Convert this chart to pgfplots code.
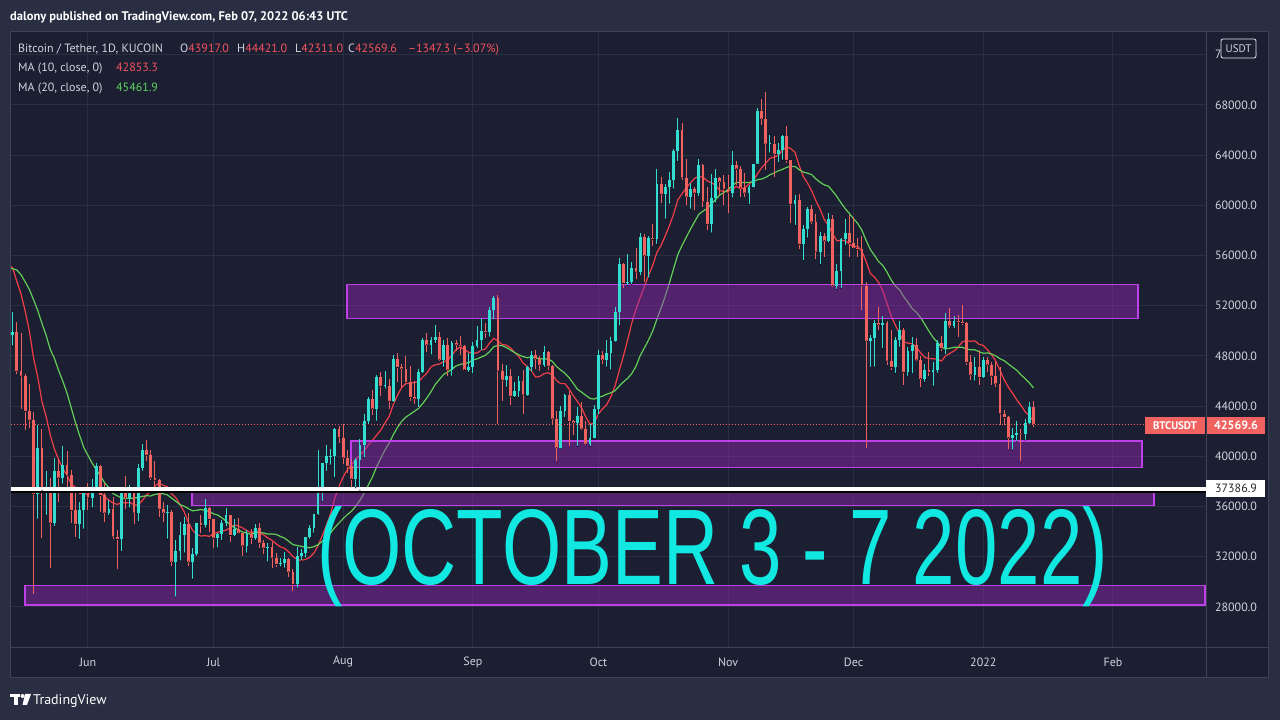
\documentclass[border=0pt]{standalone}
\usepackage{pgfplots}
\pgfplotsset{compat=1.18}
\usepackage{pgfplotstable}
\usepackage{graphicx}
\usepackage{fontspec}
\setmainfont{PT Sans}
\newfontfamily\bigfont{Liberation Sans}

\definecolor{outerbg}{RGB}{42,46,67}
\definecolor{chartbg}{RGB}{27,31,49}
\definecolor{gridc}{RGB}{43,47,67}
\definecolor{borderc}{RGB}{62,66,86}
\definecolor{textc}{RGB}{209,212,220}
\definecolor{upc}{RGB}{50,222,208}
\definecolor{downc}{RGB}{240,98,94}
\definecolor{ma10c}{RGB}{242,60,72}
\definecolor{ma20c}{RGB}{98,206,88}
\definecolor{zonef}{RGB}{150,40,180}
\definecolor{zoned}{RGB}{190,64,232}
\definecolor{bigc}{RGB}{18,232,226}
\definecolor{tagred}{RGB}{240,98,96}
\definecolor{valred}{RGB}{247,82,95}
\definecolor{valgreen}{RGB}{92,214,96}

% d = days from 1 Jun 2021; prices in thousands USDT; m1 = MA10, m2 = MA20
\pgfplotstableread{
d up o h l c m1 m2
-19 1 49.4 51.3 46.9 49.7 55.34 54.97
-18 1 49.7 51.5 48.8 49.9 55.01 54.96
-17 0 49.9 50.7 46.6 46.8 53.94 54.85
-16 0 46.8 49.8 43.8 46.4 52.94 54.47
-15 0 46.4 46.6 42.1 43.6 51.56 53.90
-14 0 43.6 45.8 42.3 42.9 49.96 53.30
-13 0 42.9 43.5 29.0 37.0 47.83 52.47
-12 1 37.0 42.5 35.0 40.7 46.31 51.62
-11 0 40.7 42.2 33.5 37.3 44.37 50.59
-10 1 37.3 38.8 35.3 37.5 43.18 49.64
-9 0 37.5 38.3 31.1 34.7 41.68 48.51
-8 1 34.7 39.9 34.4 38.8 40.57 47.79
-7 0 38.8 39.8 36.4 38.3 39.72 46.83
-6 1 38.3 40.8 37.8 39.3 39.01 45.98
-5 0 39.3 40.4 37.2 38.5 38.50 45.03
-4 0 38.5 38.9 34.7 35.7 37.78 43.87
-3 0 35.7 37.3 33.6 34.6 37.54 42.69
-2 1 34.6 36.4 33.4 35.7 37.04 41.68
-1 1 35.7 37.5 34.2 37.3 37.04 40.71
0 0 37.3 37.9 35.7 36.7 36.96 40.07
1 1 36.7 38.2 35.9 37.6 37.25 39.47
2 1 37.6 39.5 37.2 39.2 37.29 38.93
3 0 39.2 39.3 35.6 36.9 37.15 38.44
4 0 36.9 37.9 34.8 35.5 36.77 37.89
5 1 35.5 36.5 35.3 35.8 36.50 37.50
6 0 35.8 36.8 33.4 33.6 36.29 37.04
7 0 33.6 34.1 31.0 33.4 36.17 36.86
8 1 33.4 37.5 32.4 37.4 36.34 36.69
9 0 37.4 38.4 35.8 36.7 36.28 36.66
10 1 36.7 37.7 35.9 37.3 36.34 36.65
11 0 37.3 37.4 34.6 35.5 36.13 36.69
12 1 35.5 39.4 34.8 39.1 36.12 36.71
13 1 39.1 41.0 38.8 40.5 36.48 36.82
14 0 40.5 41.3 39.6 40.1 36.94 36.86
15 0 40.1 40.5 38.1 38.3 37.19 36.85
16 0 38.3 39.6 37.4 38.1 37.64 36.97
17 0 38.1 38.2 35.2 35.8 37.88 37.03
18 0 35.8 36.4 34.8 35.5 37.69 37.02
19 1 35.5 36.1 33.4 35.6 37.58 36.93
20 0 35.6 35.7 31.3 31.6 37.01 36.68
21 1 31.6 33.3 28.8 32.5 36.71 36.42
22 1 32.5 34.8 31.7 33.7 36.17 36.15
23 1 33.7 35.2 32.3 34.6 35.58 36.03
24 0 34.6 35.5 31.3 31.6 34.73 35.84
25 1 31.6 32.7 30.2 32.2 34.12 35.66
26 1 32.2 34.7 32.0 34.7 33.78 35.71
27 0 34.7 35.3 33.9 34.5 33.65 35.77
28 1 34.5 36.6 34.3 35.9 33.69 35.69
29 0 35.9 36.0 34.0 35.0 33.63 35.61
30 0 35.0 35.0 32.7 33.5 33.82 35.42
31 1 33.5 33.9 32.7 33.8 33.95 35.33
32 1 33.8 34.9 33.3 34.7 34.05 35.11
33 1 34.7 35.9 34.4 35.3 34.12 34.85
34 0 35.3 35.3 33.2 33.7 34.33 34.53
35 1 33.7 35.0 33.6 34.2 34.53 34.33
36 0 34.2 35.1 33.8 33.9 34.45 34.12
37 0 33.9 33.9 32.1 32.9 34.29 33.97
38 1 32.9 34.1 32.3 33.8 34.08 33.89
39 0 33.8 34.2 33.0 33.5 33.93 33.78
40 1 33.5 34.6 33.3 34.3 34.01 33.92
41 0 34.3 34.7 32.7 33.1 33.94 33.95
42 0 33.1 33.3 32.2 32.7 33.74 33.90
43 1 32.7 33.1 31.6 32.8 33.49 33.81
44 0 32.8 33.2 31.1 31.9 33.31 33.82
45 0 31.9 32.3 31.2 31.4 33.03 33.78
46 1 31.4 31.9 31.2 31.5 32.79 33.62
47 1 31.5 32.4 31.1 31.8 32.68 33.49
48 0 31.8 31.9 30.4 30.8 32.38 33.23
49 0 30.8 31.0 29.3 29.8 32.01 32.97
50 1 29.8 32.8 29.5 32.1 31.79 32.90
51 1 32.1 32.6 31.7 32.3 31.71 32.83
52 1 32.3 33.6 31.9 33.6 31.80 32.77
53 1 33.6 34.5 33.4 34.3 31.95 32.72
54 1 34.3 35.4 33.9 35.4 32.30 32.81
55 1 35.4 40.5 35.3 37.3 32.89 32.96
56 1 37.3 39.5 36.4 39.5 33.69 33.24
57 1 39.5 40.9 38.8 40.0 34.51 33.60
58 1 40.0 40.6 39.3 40.05 35.43 33.91
59 1 40.0 42.3 38.3 42.2 36.67 34.34
60 0 42.2 42.4 41.1 41.5 37.61 34.70
61 0 41.5 42.6 39.4 39.9 38.37 35.04
62 0 39.9 40.5 38.7 39.2 38.93 35.37
63 0 39.2 39.8 37.6 38.2 39.32 35.64
64 1 38.2 39.9 37.5 39.7 39.75 36.03
65 1 39.7 41.4 37.3 40.9 40.11 36.50
66 1 40.9 43.4 39.9 42.8 40.44 37.07
67 1 42.8 44.7 42.5 44.6 40.90 37.71
68 0 44.6 45.3 43.3 43.8 41.28 38.36
69 1 43.8 46.5 42.8 46.3 41.69 39.18
70 0 46.3 46.7 44.8 45.6 42.10 39.86
71 1 45.6 46.8 45.4 45.65 42.67 40.52
72 0 45.6 46.2 43.8 44.4 43.19 41.06
73 1 44.4 48.1 44.3 47.8 44.15 41.74
74 0 47.8 48.2 45.9 47.1 44.89 42.32
75 0 47.1 47.4 45.5 47.0 45.50 42.81
76 0 47.0 48.0 45.7 45.9 45.81 43.13
77 0 45.9 47.2 44.4 44.7 45.82 43.36
78 0 44.7 46.0 44.2 44.6 45.90 43.59
79 1 44.6 47.0 43.9 46.7 45.94 43.82
80 1 46.7 49.4 46.6 49.3 46.31 44.21
81 0 49.3 49.8 48.3 48.9 46.64 44.66
82 1 48.9 49.5 48.1 49.3 47.13 45.16
83 1 49.3 50.5 49.0 49.5 47.30 45.73
84 0 49.5 49.9 47.6 47.7 47.36 46.13
85 1 47.7 49.3 47.1 48.9 47.55 46.53
86 0 48.9 49.4 46.4 46.9 47.65 46.73
87 1 46.9 49.2 46.4 49.0 48.08 46.95
88 0 49.0 49.3 48.4 48.9 48.51 47.21
89 0 48.9 49.6 48.1 48.8 48.72 47.33
90 0 48.8 48.9 46.9 46.9 48.48 47.40
91 1 46.9 48.2 46.7 47.1 48.30 47.47
92 1 47.1 49.1 46.6 48.8 48.25 47.69
93 1 48.8 50.4 48.6 49.3 48.23 47.77
94 1 49.3 51.0 48.4 50.0 48.46 47.91
95 0 50.0 50.6 49.4 49.9 48.56 48.06
96 1 49.9 51.9 49.5 51.7 49.04 48.35
97 1 51.7 52.8 50.9 52.6 49.40 48.74
98 0 52.6 52.9 42.6 46.8 49.19 48.85
99 0 46.8 47.4 44.4 46.1 48.92 48.82
100 1 46.1 47.3 45.5 46.4 48.87 48.68
101 0 46.4 47.0 44.1 44.8 48.64 48.47
102 1 44.8 45.9 44.7 45.2 48.28 48.27
103 1 45.2 46.4 44.7 46.0 47.95 48.09
104 0 46.0 46.9 43.4 44.9 47.44 47.95
105 1 44.9 47.2 44.8 47.1 47.16 47.86
106 1 47.1 48.4 46.7 48.1 46.80 47.92
107 0 48.1 48.5 47.0 47.8 46.32 47.86
108 0 47.8 48.0 46.8 47.3 46.37 47.78
109 1 47.3 48.8 47.1 48.3 46.59 47.76
110 0 48.3 48.4 46.9 47.2 46.67 47.77
111 0 47.2 47.3 42.5 43.0 46.49 47.57
112 0 43.0 43.6 39.6 40.7 46.04 47.16
113 1 40.7 44.0 40.6 43.6 45.80 46.88
114 1 43.6 45.0 43.1 44.9 45.80 46.62
115 0 44.9 45.2 40.8 42.8 45.37 46.27
116 0 42.8 42.9 41.7 42.7 44.83 45.82
117 1 42.7 43.9 40.8 43.2 44.37 45.35
118 0 43.2 44.3 42.1 42.2 43.86 45.12
119 0 42.2 42.8 40.9 41.0 43.13 44.86
120 1 41.0 42.6 40.8 41.5 42.56 44.62
121 1 41.5 44.1 41.4 43.8 42.64 44.57
122 1 43.8 48.5 43.3 48.1 43.38 44.71
123 0 48.1 48.4 47.4 47.7 43.79 44.80
124 1 47.7 49.3 47.1 48.2 44.12 44.96
125 1 48.2 49.5 46.9 49.2 44.76 45.07
126 1 49.2 51.9 49.1 51.5 45.64 45.24
127 1 51.5 55.8 50.4 55.3 46.85 45.61
128 0 55.3 55.4 53.4 53.8 48.01 45.94
129 1 53.8 56.1 53.6 53.9 49.30 46.22
130 1 53.9 55.5 53.7 55.0 50.65 46.61
131 0 55.0 56.6 54.1 54.7 51.74 47.19
132 1 54.7 57.8 54.4 57.5 52.68 48.03
133 0 57.5 57.7 53.9 56.0 53.51 48.65
134 1 56.0 57.6 54.2 57.4 54.43 49.28
135 0 57.4 58.5 56.8 57.3 55.24 50.00
136 1 57.3 62.9 56.9 61.7 56.26 50.95
137 0 61.7 62.3 60.2 60.9 56.82 51.84
138 1 60.9 61.7 58.9 61.5 57.59 52.80
139 1 61.5 62.7 60.1 62.0 58.40 53.85
140 1 62.0 64.5 61.3 64.3 59.33 54.99
141 1 64.3 67.0 63.5 66.0 60.46 56.10
142 0 66.0 66.6 62.0 62.2 60.93 56.81
143 0 62.2 63.7 60.0 60.7 61.40 57.46
144 1 60.7 61.8 59.7 61.3 61.79 58.11
145 0 61.3 61.5 59.6 61.0 62.16 58.70
146 1 61.0 63.7 60.7 63.2 62.31 59.29
147 0 63.2 63.3 59.9 60.3 62.25 59.54
148 0 60.3 61.5 58.0 58.5 61.95 59.77
149 1 58.5 62.5 57.8 60.6 61.81 60.11
150 1 60.6 62.9 60.2 62.2 61.60 60.47
151 0 62.2 62.3 60.8 61.9 61.19 60.83
152 0 61.9 62.4 60.0 61.3 61.10 61.02
153 0 61.3 62.4 59.4 61.0 61.13 61.27
154 1 61.0 64.3 60.6 63.2 61.32 61.56
155 0 63.2 63.5 61.6 62.9 61.51 61.84
156 0 62.9 63.1 60.7 61.4 61.33 61.82
157 0 61.4 62.6 60.7 61.0 61.40 61.83
158 1 61.0 61.6 60.1 61.5 61.70 61.83
159 1 61.5 63.3 61.4 63.3 61.97 61.89
160 1 63.3 67.8 63.3 67.5 62.50 62.05
161 0 67.5 68.5 66.4 66.9 63.00 62.10
162 0 66.9 69.0 62.8 64.9 63.36 62.23
163 1 64.9 65.6 64.2 64.95 63.75 62.44
164 0 64.9 65.5 62.3 64.1 63.84 62.58
165 1 64.1 65.0 63.4 64.4 63.99 62.75
166 1 64.4 65.6 63.6 65.5 64.40 62.87
167 0 65.5 66.3 63.4 63.6 64.66 63.03
168 0 63.6 63.6 58.6 60.1 64.52 63.11
169 1 60.1 60.8 58.4 60.4 64.23 63.10
170 0 60.4 60.9 56.5 56.9 63.17 62.84
171 1 56.9 58.4 55.6 58.1 62.29 62.65
172 1 58.1 59.9 57.4 59.7 61.77 62.57
173 0 59.7 60.0 58.5 58.7 61.15 62.45
174 0 58.7 59.3 55.7 56.3 60.37 62.11
175 1 56.3 57.9 55.3 57.6 59.69 61.84
176 0 57.6 57.8 55.9 57.2 58.86 61.63
177 1 57.2 59.4 57.0 58.9 58.39 61.53
178 0 58.9 59.2 53.5 53.6 57.74 61.13
179 1 53.6 55.3 53.3 54.8 57.18 60.71
180 1 54.8 57.4 53.4 57.3 57.22 60.20
181 1 57.3 58.9 56.8 57.8 57.19 59.74
182 0 57.8 59.2 55.9 57.0 56.92 59.35
183 0 57.0 59.1 56.5 56.6 56.71 58.93
184 0 56.6 57.4 55.9 56.5 56.73 58.55
185 0 56.5 57.6 51.7 53.6 56.33 58.01
186 0 53.6 53.9 40.7 49.2 55.53 57.20
187 1 49.2 49.7 47.1 49.4 54.58 56.49
188 1 49.4 50.9 47.1 50.6 54.28 56.01
189 0 50.6 51.9 50.1 50.5 53.85 55.52
190 1 50.5 51.2 48.6 50.6 53.18 55.20
191 0 50.6 50.8 47.3 47.6 52.16 54.68
192 0 47.6 50.1 46.9 47.1 51.17 54.05
193 1 47.1 49.5 46.6 49.3 50.44 53.58
194 1 49.3 50.8 48.7 50.1 49.80 53.27
195 0 50.1 50.2 45.7 46.7 49.11 52.72
196 1 46.7 48.7 46.4 48.4 49.03 52.28
197 1 48.4 49.5 46.6 48.9 48.98 51.78
198 0 48.9 49.4 47.6 47.7 48.69 51.49
199 0 47.7 48.0 45.5 46.2 48.26 51.06
200 1 46.2 47.4 45.9 46.9 47.89 50.54
201 0 46.9 48.3 46.4 46.7 47.80 49.98
202 1 46.7 47.5 45.6 46.9 47.78 49.48
203 1 46.9 49.3 46.6 49.0 47.75 49.10
204 0 49.0 49.6 48.4 48.6 47.60 48.70
205 1 48.6 51.4 48.1 50.8 48.01 48.56
206 0 50.8 51.8 50.2 50.4 48.21 48.62
207 1 50.4 51.2 50.2 50.8 48.40 48.69
208 0 50.8 51.3 49.5 50.7 48.70 48.70
209 0 50.7 52.1 50.5 50.6 49.14 48.70
210 0 50.6 50.7 47.3 47.5 49.20 48.55
211 0 47.5 48.1 46.1 46.5 49.18 48.49
212 1 46.5 47.9 46.0 47.1 49.20 48.49
213 0 47.1 48.5 45.7 46.3 48.93 48.34
214 1 46.3 47.9 46.2 47.7 48.84 48.22
215 0 47.7 47.9 46.7 47.3 48.49 48.25
216 0 47.3 47.5 45.7 46.4 48.09 48.15
217 0 46.4 47.5 45.5 45.8 47.59 48.00
218 0 45.8 47.1 42.5 43.4 46.86 47.78
219 0 43.4 43.7 42.5 43.1 46.11 47.63
220 0 43.1 43.2 40.6 41.5 45.51 47.36
221 1 41.5 42.3 40.5 41.7 45.03 47.11
222 1 41.7 42.8 41.2 41.9 44.51 46.86
223 0 41.9 42.2 39.6 41.8 44.06 46.50
224 1 41.8 43.0 41.3 42.7 43.56 46.20
225 1 42.7 44.3 42.5 43.9 43.22 45.86
226 0 43.917 44.421 42.311 42.5696 42.85 45.46
}\candles

\begin{document}
\begin{tikzpicture}[x=1pt,y=1pt]
\fill[outerbg] (0,0) rectangle (1280,720);
\useasboundingbox (0,0) rectangle (1280,720);
\fill[chartbg] (10,42) rectangle (1268,688);

\begin{axis}[
  at={(10pt,72pt)}, anchor=south west,
  width=1196pt, height=616pt, scale only axis,
  xmin=-18.64, xmax=267.23, ymin=24.733, ymax=73.817,
  axis line style={draw=none}, tick style={draw=none},
  major tick length=0pt,
  xtick={0,30,61,92,122,153,183,214,245},
  xticklabels={Jun,Jul,Aug,Sep,Oct,Nov,Dec,2022,Feb},
  ytick={28,32,36,40,44,48,52,56,60,64,68,72},
  yticklabels={28000.0,32000.0,36000.0,40000.0,44000.0,48000.0,52000.0,56000.0,60000.0,64000.0,68000.0,72000.0},
  yticklabel pos=right,
  grid=major, grid style={gridc, line width=1pt},
  tick label style={font=\fontsize{12}{14}\selectfont, text=textc},
  xticklabel style={anchor=center, yshift=-14pt},
  yticklabel style={anchor=center, xshift=30pt},
]
% moving averages
\addplot[ma10c, line width=1.2pt, mark=none] table[x=d,y=m1]{\candles};
\addplot[ma20c, line width=1.2pt, mark=none] table[x=d,y=m2]{\candles};
% zones
\filldraw[fill=zonef, fill opacity=0.45, draw=zoned, line width=1.3pt] (axis cs:61.9,53.70) rectangle (axis cs:250.97,50.97);
\filldraw[fill=zonef, fill opacity=0.45, draw=zoned, line width=1.3pt] (axis cs:62.86,41.23) rectangle (axis cs:251.9,39.12);
\filldraw[fill=zonef, fill opacity=0.45, draw=zoned, line width=1.3pt] (axis cs:24.86,37.52) rectangle (axis cs:254.8,36.09);
\filldraw[fill=zonef, fill opacity=0.45, draw=zoned, line width=1.3pt] (axis cs:-15.06,29.69) rectangle (axis cs:267.0,28.16);
% candles: up (wick low->high via error bars, body open->close via quiver)
\addplot[only marks, mark=*, mark size=0.3pt, mark options={draw=none, fill=none},
  restrict expr to domain={\thisrow{up}}{0.5:1.5},
  error bars/.cd, y dir=plus, y explicit, error mark=none,
  error bar style={draw=upc, line width=1pt, solid}]
  table[x=d, y=l, y error plus expr=\thisrow{h}-\thisrow{l}]{\candles};
\addplot[upc, line width=2.8pt, mark=none,
  restrict expr to domain={\thisrow{up}}{0.5:1.5},
  quiver={u=0, v=\thisrow{c}-\thisrow{o}}] table[x=d, y=o]{\candles};
% candles: down (wick via quiver, body via error bars)
\addplot[downc, line width=1pt, mark=none,
  restrict expr to domain={\thisrow{up}}{-0.5:0.5},
  quiver={u=0, v=\thisrow{h}-\thisrow{l}}] table[x=d, y=l]{\candles};
\addplot[only marks, mark=*, mark size=0.3pt, mark options={draw=none, fill=none},
  restrict expr to domain={\thisrow{up}}{-0.5:0.5},
  error bars/.cd, y dir=plus, y explicit, error mark=none,
  error bar style={draw=downc, line width=2.8pt, solid}]
  table[x=d, y=c, y error plus expr=\thisrow{o}-\thisrow{c}]{\candles};
% last price line
\draw[downc, line width=1pt, dash pattern=on 1pt off 2pt] (axis cs:-19,42.5696) -- (axis cs:252.6,42.5696);
% white horizontal line
\draw[black, line width=1.5pt] ([yshift=-3pt]axis cs:-19,37.3869) -- ([yshift=-3pt]axis cs:268,37.3869);
\draw[white, line width=4.5pt] (axis cs:-19,37.3869) -- (axis cs:268,37.3869);
\end{axis}

% frame lines
\draw[borderc, line width=1pt] (10,42) rectangle (1268,688);
\draw[borderc, line width=1pt] (1206,42) -- (1206,688);
\draw[borderc, line width=1pt] (10,72) -- (1268,72);

% header
\node[anchor=base west, inner sep=0pt, text=white] at (10,699) {\fontsize{12.5}{15}\selectfont\bfseries dalony published on TradingView.com, Feb 07, 2022 06:43 UTC};

% legend
\begin{scope}[every node/.style={anchor=base west, inner sep=0pt, text=textc, font=\fontsize{12}{14}\selectfont}]
\node at (18,667) {Bitcoin / Tether, 1D, KUCOIN};
\node at (180,667) {O\textcolor{valred}{43917.0}};
\node at (237,667) {H\textcolor{valred}{44421.0}};
\node at (295,667) {L\textcolor{valred}{42311.0}};
\node at (348,667) {C\textcolor{valred}{42569.6}};
\node[text=valred] at (408,667) {–1347.3 (–3.07\%)};
\node at (18,648) {MA (10, close, 0)};
\node[text=valred] at (116,648) {42853.3};
\node at (18,628) {MA (20, close, 0)};
\node[text=valgreen] at (116,628) {45461.9};
\end{scope}

% price tags
\fill[tagred] (1145,286) rectangle (1205,303);
\node[text=white, font=\fontsize{11}{12}\selectfont\bfseries] at (1175,294.5) {BTCUSDT};
\fill[tagred] (1207,286) rectangle (1265,303);
\node[text=white, font=\fontsize{12}{13}\selectfont\bfseries] at (1236,294.5) {42569.6};
\fill[white] (1206,223) rectangle (1265,240);
\node[text=black!85, font=\fontsize{12}{13}\selectfont] at (1236,231.5) {37386.9};
\filldraw[fill=chartbg, draw=textc!60, rounded corners=2pt, line width=0.8pt] (1221,662) rectangle (1256,681);
\node[text=textc, font=\fontsize{11}{12}\selectfont] at (1238.5,671.5) {USDT};

% big caption
\node[anchor=base west, inner sep=0pt, text=bigc] at (317,135) {\scalebox{0.709}[1]{\bigfont\fontsize{107.5}{110}\selectfont (OCTOBER 3 - 7 2022)}};

% TradingView logo
\fill[white] (10,26) rectangle (19.5,22.5);
\fill[white] (14,22.5) rectangle (18,15);
\fill[white] (22.5,24) circle (2);
\fill[white] (25,26) -- (31,26) -- (27,15) -- (22.5,15) -- cycle;
\node[anchor=base west, inner sep=0pt, text=white, font=\fontsize{14}{16}\selectfont] at (33,15) {TradingView};
\end{tikzpicture}
\end{document}
